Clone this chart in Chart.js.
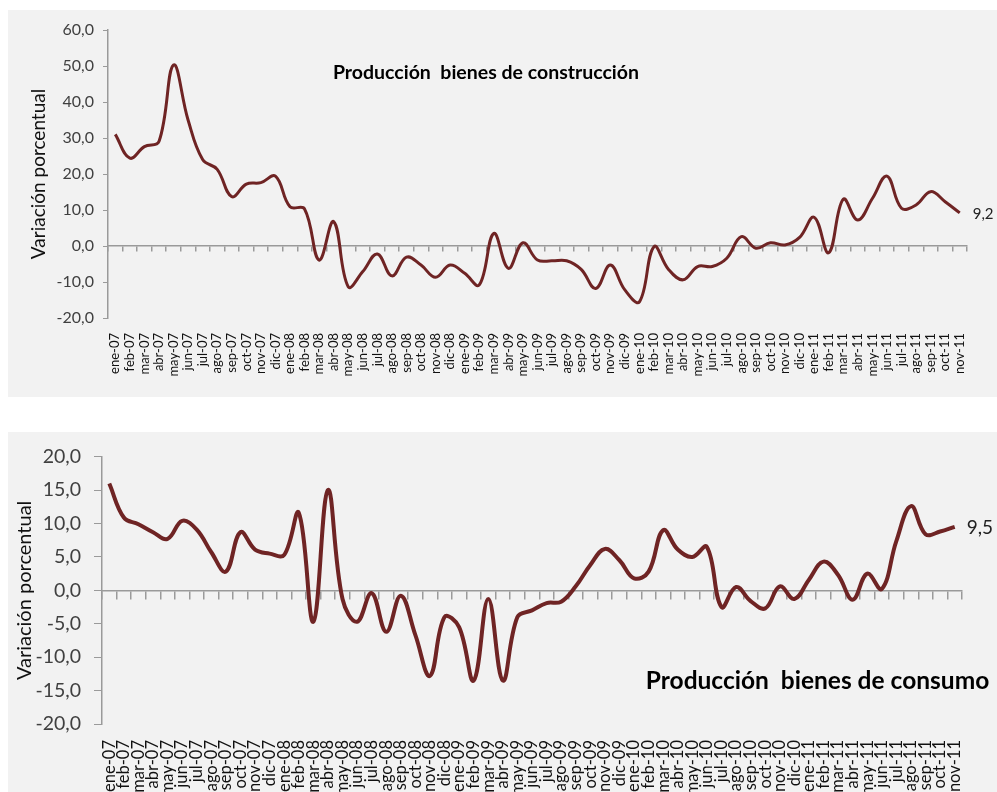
<!DOCTYPE html>
<html>
<head>
<meta charset="utf-8">
<script src="https://cdn.jsdelivr.net/npm/chart.js@4.4.1/dist/chart.umd.min.js"></script>
<style>
  html, body { margin: 0; padding: 0; background: #ffffff; }
  body { width: 997px; height: 792px; position: relative; overflow: hidden; }
  .panel { position: absolute; left: 8px; width: 989px; background: #f2f2f2; }
  #topPanel { top: 10px; height: 387px; }
  #bottomPanel { top: 432px; height: 360px; }
  canvas { display: block; }
</style>
</head>
<body>
<div class="panel" id="topPanel"><canvas id="constructionChart" width="989" height="387"></canvas></div>
<div class="panel" id="bottomPanel"><canvas id="consumoChart" width="989" height="360"></canvas></div>

<script>
// month labels, ene-07 .. nov-11
const MONTH_LABELS = [
  'ene-07','feb-07','mar-07','abr-07','may-07','jun-07','jul-07','ago-07','sep-07','oct-07','nov-07','dic-07',
  'ene-08','feb-08','mar-08','abr-08','may-08','jun-08','jul-08','ago-08','sep-08','oct-08','nov-08','dic-08',
  'ene-09','feb-09','mar-09','abr-09','may-09','jun-09','jul-09','ago-09','sep-09','oct-09','nov-09','dic-09',
  'ene-10','feb-10','mar-10','abr-10','may-10','jun-10','jul-10','ago-10','sep-10','oct-10','nov-10','dic-10',
  'ene-11','feb-11','mar-11','abr-11','may-11','jun-11','jul-11','ago-11','sep-11','oct-11','nov-11'
];

// Producción bienes de construcción (variación porcentual)
const CONSTRUCCION = [
  31.0, 24.4, 27.6, 29.0, 50.3, 35.0, 24.0, 21.3, 13.7, 17.2, 17.6, 19.4,
  10.9, 10.3, -3.9, 6.8, -11.3, -7.1, -2.2, -8.3, -3.1, -5.3, -8.7, -5.3,
  -7.6, -10.8, 3.5, -6.2, 0.9, -3.9, -4.1, -4.1, -6.5, -11.8, -5.3, -12.2,
  -15.5, -0.2, -6.5, -9.4, -5.7, -5.7, -3.4, 2.6, -0.6, 0.9, 0.3, 2.4,
  8.0, -1.9, 13.0, 7.2, 13.2, 19.4, 10.5, 11.4, 15.1, 12.3, 9.2
];

// Producción bienes de consumo (variación porcentual)
const CONSUMO = [
  16.0, 10.9, 9.9, 8.7, 7.7, 10.4, 9.1, 5.7, 2.8, 8.7, 6.1, 5.5,
  5.3, 11.6, -4.7, 15.0, -1.3, -4.7, -0.4, -6.2, -0.8, -6.7, -12.8, -4.0,
  -5.5, -13.5, -1.3, -13.5, -4.0, -3.0, -1.9, -1.7, 0.6, 3.8, 6.2, 4.5,
  1.8, 2.8, 9.0, 6.1, 5.0, 6.5, -2.5, 0.5, -1.6, -2.7, 0.6, -1.3,
  1.6, 4.3, 2.3, -1.4, 2.5, 0.2, 7.4, 12.6, 8.4, 8.8, 9.5
];

const LINE_COLOR = '#6f2424';
const AXIS_COLOR = '#9a9a9a';
const FONT = 'Lato, "Open Sans", sans-serif';

const fmt = v => Number(v).toFixed(1).replace('.', ',');

// text drawn inside the plot area (chart title + last value label)
const overlayText = {
  id: 'overlayText',
  afterDatasetsDraw(chart, args, opts) {
    const { ctx, chartArea } = chart;
    ctx.save();
    // title
    ctx.font = `bold ${opts.titleSize}px ${FONT}`;
    ctx.fillStyle = '#000';
    ctx.textAlign = 'center';
    ctx.textBaseline = 'middle';
    const tx = chartArea.left + (chartArea.right - chartArea.left) * opts.titleX;
    const ty = chartArea.top + (chartArea.bottom - chartArea.top) * opts.titleY;
    ctx.fillText(opts.title, tx, ty);
    // last value label
    const meta = chart.getDatasetMeta(0);
    const data = chart.data.datasets[0].data;
    const last = meta.data[meta.data.length - 1];
    ctx.font = `${opts.valueSize}px ${FONT}`;
    ctx.fillStyle = '#222';
    ctx.textAlign = 'left';
    ctx.fillText(fmt(data[data.length - 1]), last.x + opts.valueGap, last.y + 1);
    ctx.restore();
  }
};

function makeChart(canvasId, values, cfg) {
  const canvas = document.getElementById(canvasId);
  return new Chart(canvas.getContext('2d'), {
    type: 'line',
    data: {
      labels: MONTH_LABELS,
      datasets: [{
        data: values,
        borderColor: LINE_COLOR,
        borderWidth: cfg.lineWidth,
        tension: 0.4,
        pointRadius: 0,
        fill: false,
        xAxisID: 'x',
        yAxisID: 'y'
      }]
    },
    options: {
      responsive: false,
      animation: false,
      layout: { padding: cfg.padding },
      plugins: {
        legend: { display: false },
        tooltip: { enabled: false },
        overlayText: cfg.overlay
      },
      scales: {
        x: {
          type: 'category',
          offset: true,
          grid: { display: false },
          border: { display: false },
          ticks: {
            autoSkip: false,
            maxRotation: 90,
            minRotation: 90,
            padding: cfg.xTickPad,
            color: '#111',
            font: { family: FONT, size: cfg.xFont }
          },
          afterFit: s => { s.height = cfg.xHeight; }
        },
        // axis line + tick marks crossing at zero
        x0: {
          type: 'category',
          offset: true,
          position: { y: 0 },
          ticks: { display: false },
          grid: {
            offset: true,
            drawOnChartArea: false,
            drawTicks: true,
            tickLength: cfg.tickLen,
            color: AXIS_COLOR,
            lineWidth: 1.5
          },
          border: { color: AXIS_COLOR, width: 1.5 }
        },
        y: {
          min: cfg.yMin,
          max: cfg.yMax,
          ticks: {
            stepSize: cfg.yStep,
            padding: cfg.yTickPad,
            color: '#404040',
            font: { family: FONT, size: cfg.yFont },
            callback: v => fmt(v)
          },
          grid: {
            drawOnChartArea: false,
            drawTicks: true,
            tickLength: cfg.tickLen,
            color: AXIS_COLOR
          },
          border: { color: AXIS_COLOR, width: 1.5 },
          title: {
            display: true,
            text: 'Variación porcentual',
            color: '#111',
            padding: 0,
            font: { family: FONT, size: cfg.yTitleFont }
          },
          afterFit: s => { s.width = cfg.yWidth; }
        }
      }
    },
    plugins: [overlayText]
  });
}

makeChart('constructionChart', CONSTRUCCION, {
  lineWidth: 3,
  padding: { top: 20, right: 30, left: 19, bottom: 0 },
  xHeight: 79, xFont: 13, xTickPad: 7,
  yWidth: 81, yFont: 16, yTickPad: 9, yTitleFont: 19,
  yMin: -20, yMax: 60, yStep: 10, tickLen: 5,
  overlay: { title: 'Producción  bienes de construcción', titleSize: 19.5, titleX: 0.44, titleY: 0.149, valueSize: 15, valueGap: 13 }
});

makeChart('consumoChart', CONSUMO, {
  lineWidth: 4,
  padding: { top: 19, right: 35, left: 5, bottom: 0 },
  xHeight: 68, xFont: 16.5, xTickPad: 8,
  yWidth: 89, yFont: 19.5, yTickPad: 13, yTitleFont: 20,
  yMin: -20, yMax: 20, yStep: 5, tickLen: 8,
  overlay: { title: 'Producción  bienes de consumo', titleSize: 24.5, titleX: 0.832, titleY: 0.839, valueSize: 19, valueGap: 12 }
});
</script>
</body>
</html>
